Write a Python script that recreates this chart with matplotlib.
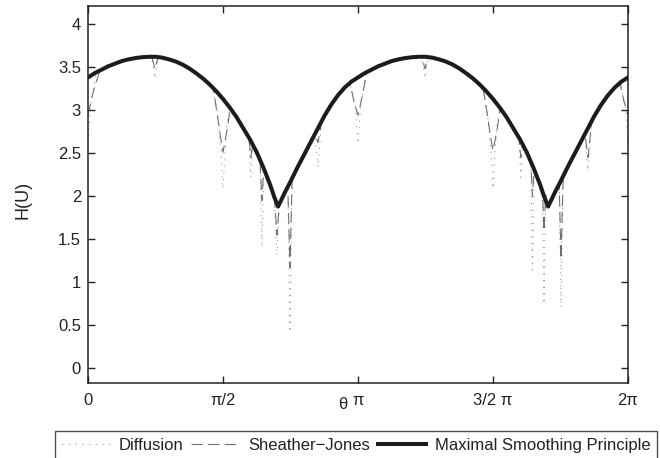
import numpy as np
import matplotlib
matplotlib.use("Agg")
import matplotlib.pyplot as plt

plt.rcParams["font.family"] = ["Liberation Sans", "DejaVu Sans"]

# angles are stored in units of pi
theta_msp = [0.000, 0.025, 0.050, 0.075, 0.100, 0.125, 0.150, 0.175, 0.200, 0.225, 0.250,
             0.275, 0.300, 0.325, 0.350, 0.375, 0.400, 0.425, 0.450, 0.475, 0.500, 0.525,
             0.550, 0.575, 0.600, 0.625, 0.650, 0.675, 0.690, 0.704, 0.715, 0.730, 0.750,
             0.775, 0.800, 0.825, 0.850, 0.875, 0.900, 0.925, 0.950, 0.975,
             1.000, 1.025, 1.050, 1.075, 1.100, 1.125, 1.150, 1.175, 1.200, 1.225, 1.250,
             1.275, 1.300, 1.325, 1.350, 1.375, 1.400, 1.425, 1.450, 1.475, 1.500, 1.525,
             1.550, 1.575, 1.600, 1.625, 1.650, 1.675, 1.690, 1.704, 1.715, 1.730, 1.750,
             1.775, 1.800, 1.825, 1.850, 1.875, 1.900, 1.925, 1.950, 1.975, 2.000]
h_msp = [3.38, 3.43, 3.47, 3.51, 3.54, 3.57, 3.59, 3.605, 3.615, 3.62, 3.62,
         3.61, 3.59, 3.565, 3.53, 3.485, 3.43, 3.37, 3.30, 3.22, 3.13, 3.03,
         2.92, 2.79, 2.66, 2.51, 2.33, 2.13, 1.99, 1.88, 1.95, 2.05, 2.17,
         2.33, 2.48, 2.63, 2.78, 2.93, 3.06, 3.17, 3.26, 3.33,
         3.38, 3.43, 3.47, 3.51, 3.54, 3.57, 3.59, 3.605, 3.615, 3.62, 3.62,
         3.61, 3.59, 3.565, 3.53, 3.485, 3.43, 3.37, 3.30, 3.22, 3.13, 3.03,
         2.92, 2.79, 2.66, 2.51, 2.33, 2.13, 1.99, 1.88, 1.95, 2.05, 2.17,
         2.33, 2.48, 2.63, 2.78, 2.93, 3.06, 3.17, 3.26, 3.33, 3.38]

# dips where the Diffusion estimate leaves the smooth curve
diff_dip_theta = [[0.000, 0.010, 0.030], [0.236, 0.248, 0.260],
                  [0.463, 0.478, 0.492, 0.500, 0.507, 0.515, 0.526],
                  [0.596, 0.603, 0.610], [0.637, 0.644, 0.651], [0.690, 0.700, 0.708],
                  [0.740, 0.748, 0.756], [0.840, 0.852, 0.866],
                  [0.970, 0.990, 1.000, 1.010, 1.030], [1.236, 1.248, 1.260],
                  [1.463, 1.478, 1.492, 1.500, 1.507, 1.515, 1.526],
                  [1.596, 1.603, 1.610], [1.640, 1.646, 1.652], [1.683, 1.689, 1.695],
                  [1.745, 1.752, 1.760], [1.840, 1.852, 1.866], [1.970, 1.990, 2.000]]
diff_dip_h = [[2.62, 3.05, 3.44], [3.62, 3.37, 3.62],
              [3.26, 3.00, 2.55, 2.09, 2.45, 2.85, 3.03],
              [2.68, 2.22, 2.60], [2.42, 1.41, 2.32], [1.99, 1.31, 1.90],
              [2.12, 0.42, 2.22], [2.73, 2.34, 2.89],
              [3.32, 3.05, 2.61, 3.05, 3.44], [3.62, 3.37, 3.62],
              [3.26, 3.00, 2.55, 2.09, 2.45, 2.85, 3.03],
              [2.68, 2.22, 2.60], [2.40, 1.14, 2.31], [2.07, 0.75, 2.02],
              [2.15, 0.71, 2.24], [2.73, 2.30, 2.89], [3.32, 3.05, 2.62]]

# dips where the Sheather-Jones estimate leaves the smooth curve
sj_dip_theta = [[0.000, 0.020, 0.044], [0.236, 0.248, 0.260],
                [0.463, 0.478, 0.489, 0.500, 0.515, 0.526, 0.532],
                [0.596, 0.603, 0.610], [0.637, 0.644, 0.651], [0.690, 0.700, 0.708],
                [0.740, 0.748, 0.756], [0.840, 0.852, 0.866],
                [0.970, 0.985, 1.000, 1.015, 1.033], [1.236, 1.248, 1.260],
                [1.463, 1.478, 1.489, 1.500, 1.515, 1.526, 1.532],
                [1.596, 1.603, 1.610], [1.640, 1.646, 1.652], [1.683, 1.689, 1.695],
                [1.745, 1.752, 1.760], [1.840, 1.852, 1.866], [1.970, 1.985, 2.000]]
sj_dip_h = [[2.95, 3.22, 3.46], [3.62, 3.48, 3.62],
            [3.26, 2.97, 2.73, 2.51, 2.77, 3.00, 3.00],
            [2.68, 2.45, 2.60], [2.42, 1.95, 2.32], [1.99, 1.55, 1.90],
            [2.12, 1.17, 2.22], [2.73, 2.62, 2.89],
            [3.32, 3.10, 2.94, 3.15, 3.44], [3.62, 3.48, 3.62],
            [3.26, 2.97, 2.73, 2.53, 2.77, 3.00, 3.00],
            [2.68, 2.45, 2.60], [2.40, 2.00, 2.31], [2.07, 1.60, 2.02],
            [2.15, 1.27, 2.24], [2.73, 2.45, 2.89], [3.32, 3.10, 2.95]]

xtick_pos = [0, 0.5, 1, 1.5, 2]
xtick_labels = ["0", "π/2", "π", "3/2 π", "2π"]
ytick_pos = [0, 0.5, 1, 1.5, 2, 2.5, 3, 3.5, 4]
ytick_labels = ["0", "0.5", "1", "1.5", "2", "2.5", "3", "3.5", "4"]


def with_dips(dip_theta, dip_h):
    # smooth curve outside the dips, dip readings inside them
    t = np.array(theta_msp)
    h = np.array(h_msp)
    keep = np.ones(len(t), dtype=bool)
    for dt in dip_theta:
        keep &= ~((t >= min(dt)) & (t <= max(dt)))
    all_t = np.concatenate([t[keep]] + [np.array(d) for d in dip_theta])
    all_h = np.concatenate([h[keep]] + [np.array(d) for d in dip_h])
    order = np.argsort(all_t, kind="stable")
    return all_t[order] * np.pi, all_h[order]


fig = plt.figure(figsize=(6.6, 4.58), dpi=100)
ax = fig.add_axes([88 / 660, 75 / 458, 540 / 660, 377 / 458])

x_diff, y_diff = with_dips(diff_dip_theta, diff_dip_h)
x_sj, y_sj = with_dips(sj_dip_theta, sj_dip_h)

ax.plot(x_diff, y_diff, color="#999999", lw=0.8, linestyle=(0, (1, 5)), label="Diffusion")
ax.plot(x_sj, y_sj, color="#707070", lw=0.8, linestyle=(0, (10, 5)), label="Sheather−Jones")
ax.plot(np.array(theta_msp) * np.pi, h_msp, color="#1c1c1c", lw=2.9,
        solid_joinstyle="round", label="Maximal Smoothing Principle")

ax.set_xlim(0, 2 * np.pi)
ax.set_ylim(-0.17, 4.21)
ax.set_xticks(np.array(xtick_pos) * np.pi)
ax.set_xticklabels(xtick_labels)
ax.set_yticks(ytick_pos)
ax.set_yticklabels(ytick_labels)
ax.tick_params(direction="in", length=5, width=1, top=True, right=True,
               labelsize=12, colors="#222222")
ax.tick_params(axis="x", pad=7)
ax.tick_params(axis="y", pad=5)
for s in ax.spines.values():
    s.set_linewidth(1.1)
    s.set_color("#222222")

ax.set_ylabel("H(U)", fontsize=13, color="#222222")
ax.yaxis.set_label_coords(-0.105, 0.485)
ax.set_xlabel("θ", fontsize=12, color="#222222", va="center")
ax.xaxis.set_label_coords(0.472, -0.058)

leg = fig.legend(loc="upper center", bbox_to_anchor=(356 / 660, 27 / 458), ncol=3,
                 fontsize=12, frameon=True, fancybox=False, handlelength=2.9,
                 handletextpad=0.5, columnspacing=0.5, borderpad=0.4,
                 borderaxespad=0)
leg.get_frame().set_edgecolor("#222222")
leg.get_frame().set_linewidth(1.0)
for t in leg.get_texts():
    t.set_color("#222222")

plt.savefig("out.png", dpi=100)
